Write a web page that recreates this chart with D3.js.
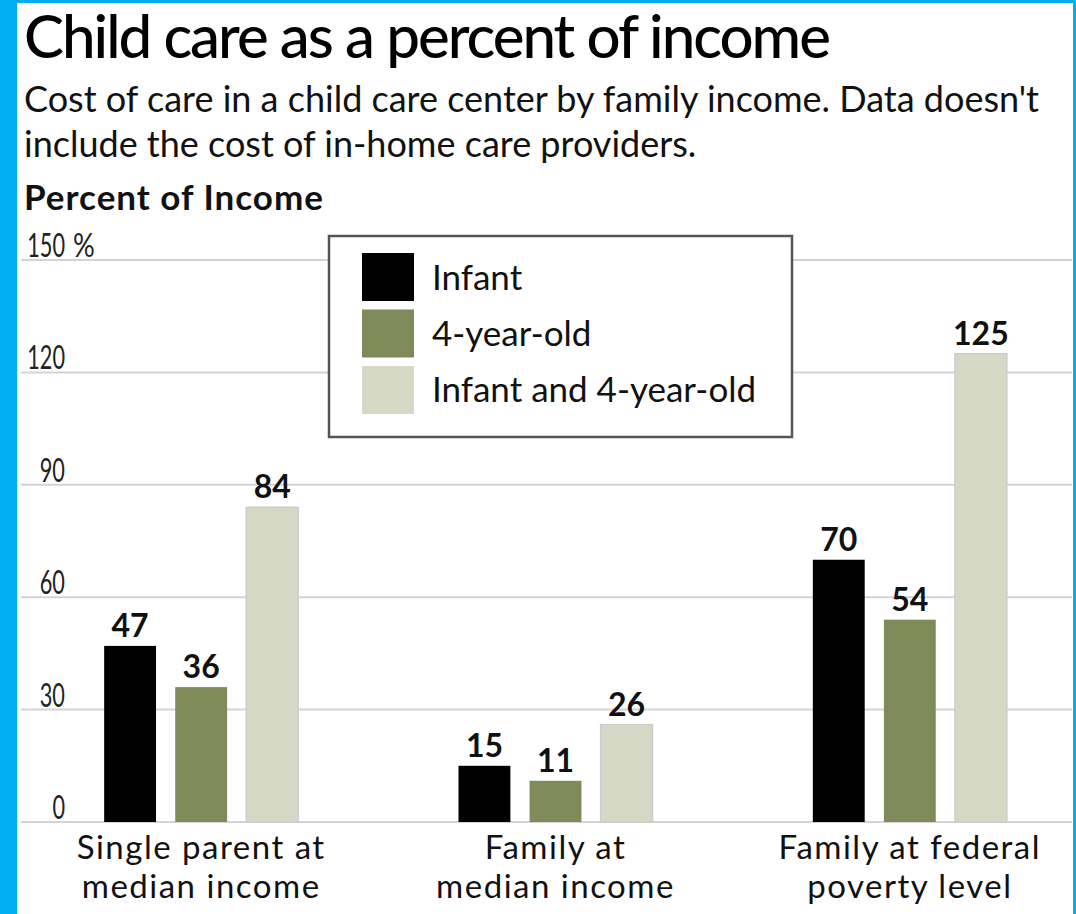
<!DOCTYPE html>
<html>
<head>
<meta charset="utf-8">
<script src="https://cdn.jsdelivr.net/npm/d3@7"></script>
<style>
  html, body { margin: 0; padding: 0; background: #fff; }
  svg { display: block; }
</style>
</head>
<body>
<div id="chart"></div>
<script>
const categories = [['Single parent at', 'median income'], ['Family at', 'median income'], ['Family at federal', 'poverty level']]
const seriesNames = ['Infant', '4-year-old', 'Infant and 4-year-old']
const infant = [47, 15, 70]
const fourYearOld = [36, 11, 54]
const both = [84, 26, 125]
const yTicks = [0, 30, 60, 90, 120, 150]

const colors = ['#000000', '#7f8a5a', '#d5d8c4']
const fontFamily = 'Lato, "Open Sans", sans-serif'

const width = 1076
const height = 914

const series = [infant, fourYearOld, both]
const rows = categories.map((c, i) => ({
  key: c.join(' '),
  label: c,
  values: series.map((s, j) => ({ name: seriesNames[j], value: s[i] }))
}))

const svg = d3.select('#chart')
  .append('svg')
  .attr('width', width)
  .attr('height', height)

// blue frame
svg.append('rect')
  .attr('width', width)
  .attr('height', height)
  .attr('fill', '#00aeef')
svg.append('rect')
  .attr('x', 17)
  .attr('y', 3)
  .attr('width', width - 17 - 3)
  .attr('height', height - 3)
  .attr('fill', '#fff')

svg.append('text')
  .text('Child care as a percent of income')
  .attr('x', 24)
  .attr('y', 58)
  .attr('style', `font-family: ${fontFamily}; font-size: 60px; font-weight: 500; letter-spacing: -2px`)
  .attr('fill', '#000')

const sub = ['Cost of care in a child care center by family income. Data doesn\'t', 'include the cost of in-home care providers.']
sub.forEach((t, i) => {
  svg.append('text')
    .text(t)
    .attr('x', 24)
    .attr('y', 112 + 45 * i)
    .attr('style', `font-family: ${fontFamily}; font-size: 36px`)
    .attr('fill', '#111')
})

svg.append('text')
  .text('Percent of Income')
  .attr('x', 24)
  .attr('y', 210)
  .attr('style', `font-family: ${fontFamily}; font-size: 35px; font-weight: bold; letter-spacing: 1px`)
  .attr('fill', '#111')

const y = d3.scaleLinear().domain([0, 150]).range([822, 260])
const x0 = d3.scaleBand().domain(rows.map(d => d.key)).range([24, 1087])
const x1 = d3.scaleBand().domain(seriesNames).range([0, 194]).paddingInner(0.27)
const groupOffset = (x0.bandwidth() - 194) / 2

// grid
const grid = svg.append('g')
grid.selectAll('line')
  .data(yTicks)
  .join('line')
  .attr('x1', 21)
  .attr('x2', 1072)
  .attr('y1', d => y(d))
  .attr('y2', d => y(d))
  .attr('stroke', '#d3d3d3')
  .attr('stroke-width', 2)

grid.selectAll('text')
  .data(yTicks)
  .join('text')
  .text(d => d)
  .attr('transform', d => `translate(65,${y(d) - 3}) scale(0.68,1)`)
  .attr('text-anchor', 'end')
  .attr('style', `font-family: ${fontFamily}; font-size: 32px; font-weight: 400`)
  .attr('fill', '#222')

svg.append('text')
  .text('%')
  .attr('transform', `translate(73,${y(150) - 3}) scale(0.85,1)`)
  .attr('style', `font-family: ${fontFamily}; font-size: 32px; font-weight: 400`)
  .attr('fill', '#222')

// bars
const groups = svg.append('g')
  .selectAll('g')
  .data(rows)
  .join('g')
  .attr('transform', d => `translate(${x0(d.key) + groupOffset},0)`)

groups.selectAll('rect')
  .data(d => d.values)
  .join('rect')
  .attr('x', d => x1(d.name))
  .attr('width', x1.bandwidth())
  .attr('y', d => y(d.value))
  .attr('height', d => y(0) - y(d.value))
  .attr('fill', (d, i) => colors[i])
  .attr('stroke', (d, i) => i === 2 ? '#cccccc' : 'none')
  .attr('stroke-width', 1.5)

groups.selectAll('text.value')
  .data(d => d.values)
  .join('text')
  .attr('class', 'value')
  .text(d => d.value)
  .attr('x', d => x1(d.name) + x1.bandwidth() / 2)
  .attr('y', d => y(d.value) - 9)
  .attr('text-anchor', 'middle')
  .attr('style', `font-family: ${fontFamily}; font-size: 32px; font-weight: bold`)
  .attr('fill', '#111')

// category labels, one text per line
const catLabels = svg.append('g')
  .selectAll('g')
  .data(rows)
  .join('g')

catLabels.selectAll('text')
  .data(d => d.label.map(t => ({ t, cx: x0(d.key) + x0.bandwidth() / 2 })))
  .join('text')
  .text(d => d.t)
  .attr('x', d => d.cx)
  .attr('y', (d, i) => 859 + 39 * i)
  .attr('text-anchor', 'middle')
  .attr('style', `font-family: ${fontFamily}; font-size: 33px; letter-spacing: 1.5px`)
  .attr('fill', '#111')

// legend
const lg = svg.append('g')
lg.append('rect')
  .attr('x', 329)
  .attr('y', 236)
  .attr('width', 463)
  .attr('height', 201)
  .attr('fill', '#fff')
  .attr('stroke', '#555')
  .attr('stroke-width', 2.5)

seriesNames.forEach((name, i) => {
  lg.append('rect')
    .attr('x', 362)
    .attr('y', 253 + 56.5 * i)
    .attr('width', 52)
    .attr('height', 48)
    .attr('fill', colors[i])
  lg.append('text')
    .text(name)
    .attr('x', 432)
    .attr('y', 290 + 56 * i)
    .attr('style', `font-family: ${fontFamily}; font-size: 35px`)
    .attr('fill', '#111')
})
</script>
</body>
</html>
